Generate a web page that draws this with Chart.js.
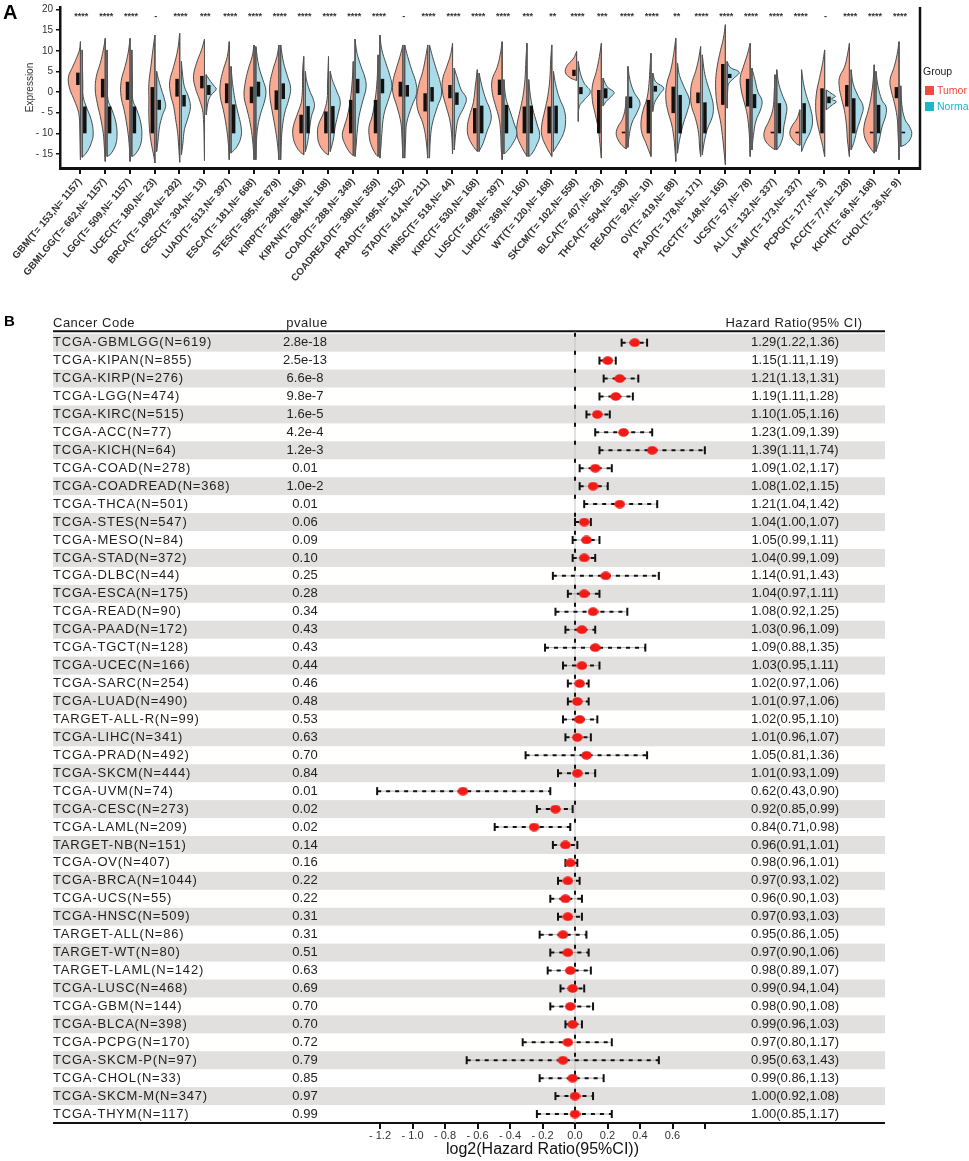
<!DOCTYPE html>
<html>
<head>
<meta charset="utf-8">
<script src="https://cdn.jsdelivr.net/npm/chart.js@4.4.1/dist/chart.umd.min.js"></script>
<style>
  body { margin: 0; background: #fff; }
  #wrapA { position: absolute; left: 0; top: 0; }
  #wrapB { position: absolute; left: 0; top: 290px; }
</style>
</head>
<body>
<div id="wrapA"><canvas id="chartA" width="969" height="290"></canvas></div>
<div id="wrapB"><canvas id="chartB" width="969" height="871"></canvas></div>
<script>
// ---------- panel A data ----------
const cancerTypes = ['GBM','GBMLGG','LGG','UCEC','BRCA','CESC','LUAD','ESCA','STES','KIRP','KIPAN','COAD','COADREAD','PRAD','STAD','HNSC','KIRC','LUSC','LIHC','WT','SKCM','BLCA','THCA','READ','OV','PAAD','TGCT','UCS','ALL','LAML','PCPG','ACC','KICH','CHOL'];
const tumorCounts = [153,662,509,180,1092,304,513,181,595,288,884,288,380,495,414,518,530,498,369,120,102,407,504,92,419,178,148,57,132,173,177,77,66,36];
const normalCounts = [1157,1157,1157,23,292,13,397,668,879,168,168,349,359,152,211,44,168,397,160,168,558,28,338,10,88,171,165,78,337,337,3,128,168,9];
const significance = ['****','****','****','-','****','***','****','****','****','****','****','****','****','-','****','****','****','****','***','**','****','***','****','****','**','****','****','****','****','****','-','****','****','****'];
const expressionTicks = [-15,-10,-5,0,5,10,15,20];

// half violin outlines, [expression, density width] from top to bottom
const tumorProfiles = [
  [[12.2,0],[10.2,1],[8.2,4],[6,8],[3.7,12],[1,11],[-1.5,7],[-4,3],[-6,1.2],[-10,0.6],[-16.4,0]],
  [[13,0],[10.2,2],[7,5],[3.7,9],[0.5,10],[-2.7,8],[-5.9,5],[-10,2],[-13.2,1],[-16.8,0]],
  [[13,0],[9.4,2],[6.2,5],[2.5,9],[-1.1,9],[-4.3,6],[-8.3,3],[-12.4,1],[-16.8,0]],
  [[13.8,0],[10.2,2],[6.2,4],[2.1,6],[-1.9,6],[-5.9,6],[-10,5],[-13.2,3],[-15.6,1],[-17.2,0]],
  [[14.2,0],[10.2,2],[6.2,6],[2.5,10],[-0.7,9],[-3.5,6],[-6.7,4],[-10,2],[-13.2,1],[-17,0]],
  [[12.8,0],[10.2,3],[7,8],[3.7,11],[0.9,9],[-1.9,5],[-4.3,2],[-6.7,1],[-10,0.5],[-16.6,0]],
  [[12.2,0],[8.6,2],[5.4,6],[2.1,9],[-1.1,9],[-4.3,6],[-8.3,3],[-12.4,1],[-16.4,0]],
  [[11.4,0],[8.6,2],[5.4,6],[2.1,9],[-1.1,10],[-4.3,7],[-7.5,4],[-11.6,1.5],[-16.4,0]],
  [[11.4,0],[8.6,2],[5.4,6],[2.1,9],[-1.1,9],[-4.3,7],[-8.3,4],[-12.4,1.5],[-16.4,0]],
  [[8.6,0],[5.4,1],[-1.9,2],[-5.1,6],[-7.9,10],[-10,11],[-12.4,9],[-14.4,4],[-15.2,0]],
  [[8.6,0],[2,1],[-1.9,1.5],[-5.1,5],[-7.9,10],[-10.3,11],[-12.8,9],[-14.8,3],[-15.2,0]],
  [[7.4,0],[3,1],[-1.9,3],[-5.9,6],[-8.3,9],[-10.5,11],[-12.8,8],[-14.8,3],[-15.4,0]],
  [[9,0],[3,1],[-1.9,3],[-5.9,6],[-8.3,9],[-10.5,9],[-12.8,7],[-15.2,2],[-15.6,0]],
  [[11.4,0],[8.6,3],[5.4,7],[2.5,10],[-0.3,10],[-3.5,6],[-7.5,2],[-11,1],[-16,0]],
  [[11.4,0],[8.6,2],[5,5],[1.7,9],[-1.5,11],[-4.3,10],[-7.5,5],[-11,2],[-16,0]],
  [[11.8,0],[9,2],[6,6],[3,10],[0,10],[-3,7],[-6.5,3],[-10,1],[-15,0]],
  [[5.4,0],[1.5,2],[-2.5,4],[-5.9,8],[-8.5,10],[-10.8,9],[-13.2,4],[-14.4,0]],
  [[12.2,0],[9,2],[6,5],[3,10],[0,10],[-3,7],[-6.5,3],[-10,1.5],[-13.5,1],[-16.4,0]],
  [[11.8,0],[8,1],[3,2],[-1,4],[-4.5,7],[-8,10],[-10.5,10],[-13,6],[-15.6,0]],
  [[11.4,0],[8,1],[3,2],[-1,4],[-4.5,7],[-8,10],[-10.5,10],[-13,6],[-15.6,0]],
  [[9.8,0],[8.2,3],[6.2,10],[4.6,11],[3.4,6],[2.8,0]],
  [[11.8,0],[8.6,2],[5,5],[1.5,9],[-2,9],[-5.5,6],[-9,3],[-12.4,1.5],[-16,0]],
  [[-1.1,0],[-4,1],[-6.7,4],[-8.3,8],[-10,10],[-11.6,8],[-13,4],[-13.8,0]],
  [[9.4,0],[6,1],[2,2],[-1.5,4],[-4.5,8],[-7.5,10],[-10,9],[-12.4,5],[-15.6,0]],
  [[13,0],[9.4,2],[5.4,5],[2,9],[-1.5,10],[-4.5,8],[-8,4],[-11,2],[-13.5,1],[-16.8,0]],
  [[11,0],[8,2],[5,5],[2,9],[-0.7,10],[-3.5,9],[-6.5,5],[-10,2],[-13.5,1],[-15.6,0]],
  [[16.3,0],[13,2],[10,5],[6.5,8],[3,9.7],[-0.5,9.5],[-3.5,8],[-7,5],[-10.5,3],[-14,1.5],[-17.6,0]],
  [[11.8,0],[9,3],[6,7],[3.5,10],[0.5,9],[-2.5,6],[-5.5,3],[-10,1],[-15.6,0]],
  [[4.2,0],[0,0.8],[-4,2],[-7,6],[-9,10],[-10.8,11],[-12.4,8],[-13.5,3],[-14,0]],
  [[-4.3,0],[-6.5,3],[-8.3,8],[-10,10],[-11.2,8],[-12.6,3],[-12.9,0]],
  [[10.2,0],[7,2],[3.5,5],[0,8],[-3.5,9],[-6.5,8],[-10,5],[-13,2],[-15.6,0]],
  [[11.8,0],[9,2],[6,5],[3.5,10],[0.9,10],[-1.5,8],[-4.5,5],[-8,3],[-11.6,2],[-15.6,0]],
  [[6.6,0],[3,1],[-1,3],[-4.5,6],[-8,10],[-10.5,10],[-12.8,6],[-14.8,0]],
  [[12.2,0],[9,2],[6,5],[3,9],[0.5,8],[-2.3,5],[-6,2],[-10,1],[-16.4,0]]
];
const normalProfiles = [
  [[10.2,0],[2,0.6],[-1.1,1],[-3.5,4],[-6.7,9],[-10,11],[-12.4,9],[-14.8,4],[-15.8,0]],
  [[10.2,0],[2,0.6],[-1.9,1],[-4.3,5],[-7.5,9],[-10.8,10],[-13.2,8],[-15.2,3],[-15.6,0]],
  [[10.2,0],[2,0.6],[-1.9,1],[-4.3,5],[-7.5,9],[-10.8,10],[-13.2,8],[-15.2,3],[-15.6,0]],
  [[5,0],[3,2],[0.5,5],[-1.9,8],[-3.5,9],[-5.5,6],[-8.3,3],[-11.6,1.5],[-14.4,0]],
  [[7.4,0],[4.6,1],[1.3,3],[-1.1,7],[-3.5,9],[-5.9,7],[-9.1,3],[-12.4,1.5],[-15.2,0]],
  [[4.2,0],[3.4,2],[1.7,7],[0.7,10],[-0.7,5],[-2.3,2],[-5.5,0]],
  [[6.2,0],[2.1,1.5],[-1.9,4],[-5.1,7],[-8.3,10],[-10.8,10],[-13.2,6],[-14.8,0]],
  [[11,0],[6.2,3],[3,7],[0.5,10],[-1.9,9],[-5.1,5],[-8.3,2],[-12,0.6],[-16.4,0]],
  [[11.4,0],[7,3],[3.7,7],[0.9,10],[-1.9,8],[-5.1,4],[-9.1,1.5],[-13,0.5],[-16.4,0]],
  [[5,0],[3,1],[0.5,4],[-1.9,8],[-3.5,9],[-5.9,6],[-9.1,4],[-12.4,2],[-14.4,0]],
  [[5,0],[3,2],[0.5,6],[-2.3,10],[-5.1,8],[-8.3,5],[-11.6,3],[-14.4,0]],
  [[12.8,0],[9.4,2],[6.2,6],[3.4,10],[1,11],[-1.9,8],[-5.9,4],[-10,2],[-13.2,1],[-15.6,0]],
  [[13.8,0],[10.2,2],[7,6],[4,10],[1.3,12],[-1.5,9],[-5.5,4],[-10,2],[-13.5,1],[-16,0]],
  [[11.4,0],[8.6,3],[5.4,7],[2.5,11],[-0.3,12],[-3.5,7],[-7.5,2],[-11,1],[-16,0]],
  [[11.4,0],[8.6,3],[5.4,7],[2.1,11],[-0.7,12],[-3.5,8],[-7.5,3],[-11,1],[-16,0]],
  [[5.8,0],[3.4,3],[0.5,7],[-1.5,12],[-3.5,10],[-6.5,4],[-10,1.5],[-14,0]],
  [[4.6,0],[1.3,3],[-1.9,7],[-4.3,11],[-6.7,12],[-9.5,8],[-12.4,4],[-14.4,0]],
  [[3,0],[-1.5,2],[-4.5,6],[-7.5,10],[-10,13],[-12.4,9],[-14.4,3],[-15,0]],
  [[3,0],[-0.5,1.5],[-4,4],[-7.5,8],[-10.5,11],[-12.8,8],[-15,3],[-15.6,0]],
  [[5,0],[2,2],[-1.5,6],[-4.5,11],[-7.5,12],[-10,10],[-12.4,5],[-14.4,0]],
  [[7.4,0],[4.6,2],[2.1,6],[0.1,12],[-1.9,6],[-3.5,1],[-7.1,0]],
  [[3.4,0],[1.3,4],[-0.1,11],[-1.1,8],[-2.3,3],[-3.4,0]],
  [[6.2,0],[3,2],[0,6],[-2.5,12],[-4.5,10],[-7.5,4],[-11,1],[-13.4,0]],
  [[4.6,0],[2.5,3],[1,11],[-0.5,7],[-2.5,2],[-4.7,0]],
  [[7,0],[4,2],[1,7],[-2,12],[-4.5,10],[-7.5,6],[-10.5,3],[-13,1],[-14.8,0]],
  [[9,0],[5,2],[2,5],[-1,9],[-3.5,11],[-6,10],[-9,5],[-12,2],[-15.2,0]],
  [[7.4,0],[6,3],[4.8,12],[3.4,7],[2.2,2],[1.3,0.8],[-3.9,0]],
  [[5.8,0],[3,3],[0,6],[-2,10],[-4,9],[-7,4],[-10.5,1.5],[-14,0]],
  [[5.4,0],[2,2],[-1,6],[-3.5,10],[-6,9],[-8.5,7],[-11,6],[-13,3],[-14,0]],
  [[5.4,0],[2,2],[-1,5],[-4,9],[-7,11],[-9.5,9],[-12,4],[-14.4,0]],
  [[0.5,0],[-0.5,6],[-1.1,9],[-1.7,5],[-2.3,10],[-3.1,6],[-4.3,0]],
  [[5.4,0],[2,2],[-1,7],[-3.5,12],[-6,10],[-9,6],[-12,3],[-14,0]],
  [[5,0],[1.5,2],[-2,6],[-3.5,10],[-5.5,10],[-8.5,6],[-12,3],[-14.4,0]],
  [[1.5,0],[-3,1],[-6.5,4],[-8.5,9],[-10,11],[-11.6,9],[-12.8,4],[-13.2,0]]
];
// interquartile boxes [q1, q3]
const tumorBoxes = [[1.7,4.7],[-1.3,3.2],[-1.9,2.5],[-10,1.2],[-1.1,3.2],[0.9,3.9],[-2.7,2.1],[-2.7,1.3],[-4.3,0.4],[-10,-5.5],[-10,-4.7],[-10,-1.9],[-10,-1.9],[-1.1,2.5],[-4.7,-0.3],[-1.5,1.7],[-10,-3.9],[-0.7,3],[-10,-3.5],[-10,-3.5],[3.9,5.4],[-10,0.5],[-10,-9.6],[-10,-1.9],[-5.1,1.3],[-2.7,-0.1],[-3.1,6.8],[-3.5,3.2],[-10,-9.6],[-10,-9.6],[-10,0.9],[-3.5,1.7],[-10,-9.6],[-1.5,1.2]];
const normalBoxes = [[-10,-3.5],[-10,-3.5],[-10,-3.5],[-4.3,-1.9],[-3.5,-0.7],[-0.7,1.7],[-10,-3],[-1.1,2.5],[-1.7,2.1],[-10,-3.4],[-10,-3.4],[-0.3,3.2],[-0.3,3.2],[-1.1,1.7],[-2.3,1.2],[-3.1,-0.1],[-10,-3.3],[-10,-3.1],[-10,-3.3],[-10,-3.3],[-0.5,1.2],[-1.5,0.9],[-3.9,-1.1],[0.1,1.5],[-10,-0.7],[-10,-2.5],[3.4,4.4],[-3.9,-0.5],[-10,-2.7],[-10,-2.7],[-2.7,-1.1],[-10,-1.5],[-10,-3.1],[-10,-9.6]];

// ---------- panel B data ----------
const cancerCodes = ['TCGA-GBMLGG(N=619)','TCGA-KIPAN(N=855)','TCGA-KIRP(N=276)','TCGA-LGG(N=474)','TCGA-KIRC(N=515)','TCGA-ACC(N=77)','TCGA-KICH(N=64)','TCGA-COAD(N=278)','TCGA-COADREAD(N=368)','TCGA-THCA(N=501)','TCGA-STES(N=547)','TCGA-MESO(N=84)','TCGA-STAD(N=372)','TCGA-DLBC(N=44)','TCGA-ESCA(N=175)','TCGA-READ(N=90)','TCGA-PAAD(N=172)','TCGA-TGCT(N=128)','TCGA-UCEC(N=166)','TCGA-SARC(N=254)','TCGA-LUAD(N=490)','TARGET-ALL-R(N=99)','TCGA-LIHC(N=341)','TCGA-PRAD(N=492)','TCGA-SKCM(N=444)','TCGA-UVM(N=74)','TCGA-CESC(N=273)','TCGA-LAML(N=209)','TARGET-NB(N=151)','TCGA-OV(N=407)','TCGA-BRCA(N=1044)','TCGA-UCS(N=55)','TCGA-HNSC(N=509)','TARGET-ALL(N=86)','TARGET-WT(N=80)','TARGET-LAML(N=142)','TCGA-LUSC(N=468)','TCGA-GBM(N=144)','TCGA-BLCA(N=398)','TCGA-PCPG(N=170)','TCGA-SKCM-P(N=97)','TCGA-CHOL(N=33)','TCGA-SKCM-M(N=347)','TCGA-THYM(N=117)'];
const pValues = ['2.8e-18','2.5e-13','6.6e-8','9.8e-7','1.6e-5','4.2e-4','1.2e-3','0.01','1.0e-2','0.01','0.06','0.09','0.10','0.25','0.28','0.34','0.43','0.43','0.44','0.46','0.48','0.53','0.63','0.70','0.84','0.01','0.02','0.02','0.14','0.16','0.22','0.22','0.31','0.31','0.51','0.63','0.69','0.70','0.70','0.72','0.79','0.85','0.97','0.99'];
const hazardRatios = [1.29,1.15,1.21,1.19,1.10,1.23,1.39,1.09,1.08,1.21,1.04,1.05,1.04,1.14,1.04,1.08,1.03,1.09,1.03,1.02,1.01,1.02,1.01,1.05,1.01,0.62,0.92,0.84,0.96,0.98,0.97,0.96,0.97,0.95,0.97,0.98,0.99,0.98,0.99,0.97,0.95,0.99,1.00,1.00];
const ciLower = [1.22,1.11,1.13,1.11,1.05,1.09,1.11,1.02,1.02,1.04,1.00,0.99,0.99,0.91,0.97,0.92,0.96,0.88,0.95,0.97,0.97,0.95,0.96,0.81,0.93,0.43,0.85,0.71,0.91,0.96,0.93,0.90,0.93,0.86,0.90,0.89,0.94,0.90,0.96,0.80,0.63,0.86,0.92,0.85];
const ciUpper = [1.36,1.19,1.31,1.28,1.16,1.39,1.74,1.17,1.15,1.42,1.07,1.11,1.09,1.43,1.11,1.25,1.09,1.35,1.11,1.06,1.06,1.10,1.07,1.36,1.09,0.90,0.99,0.98,1.01,1.01,1.02,1.03,1.03,1.05,1.06,1.07,1.04,1.08,1.03,1.17,1.43,1.13,1.08,1.17];
const log2Ticks = [-1.2,-1.0,-0.8,-0.6,-0.4,-0.2,0,0.2,0.4,0.6,0.8];

const FONT = '"Liberation Sans", Arial, Helvetica, sans-serif';
Chart.defaults.font.family = FONT;
Chart.defaults.color = '#333';

const TUMOR_FILL = '#f8ab92';
const NORMAL_FILL = '#a9dce8';
const SHIFT = 0.05;      // violin centre relative to tick
const HALF_GAP = 0.035;  // gap between the two halves
const DENS = 1 / 24.8;   // density width -> x units

const xLabels = cancerTypes.map((c, i) => `${c}(T= ${tumorCounts[i]},N= ${normalCounts[i]})`);

// build violin halves, flat edges and boxes
const violinSets = [];
cancerTypes.forEach((c, i) => {
  const halves = [
    [tumorProfiles[i], -1, TUMOR_FILL, tumorBoxes[i]],
    [normalProfiles[i], 1, NORMAL_FILL, normalBoxes[i]]
  ];
  halves.forEach(([prof, side, col, box]) => {
    const edge = i + SHIFT + side * HALF_GAP;
    violinSets.push({
      type: 'line',
      data: prof.map(([v, w]) => ({ x: edge + side * w * DENS, y: v })),
      borderColor: '#3a3a3a', borderWidth: 0.9, backgroundColor: col,
      fill: 'shape', tension: 0.4, pointRadius: 0, order: 3
    });
    violinSets.push({
      type: 'line',
      data: [{ x: edge, y: prof[0][0] }, { x: edge, y: prof[prof.length - 1][0] }],
      borderColor: '#555', borderWidth: 1, pointRadius: 0, fill: false, order: 2
    });
    const bx = i + SHIFT + side * 0.14;
    violinSets.push({
      type: 'line',
      data: [{ x: bx, y: box[0] }, { x: bx, y: box[1] }],
      borderColor: '#111', borderWidth: 3.5, borderCapStyle: 'butt',
      pointRadius: 0, fill: false, order: 1
    });
  });
});

const panelADecor = {
  id: 'panelADecor',
  afterDraw(chart) {
    const { ctx, chartArea: a, scales: { x, y } } = chart;
    ctx.save();
    // right frame
    ctx.strokeStyle = '#111';
    ctx.lineWidth = 2.5;
    ctx.beginPath();
    ctx.moveTo(a.right, a.top);
    ctx.lineTo(a.right, a.bottom + 1.5);
    ctx.stroke();
    // significance marks
    ctx.fillStyle = '#333';
    ctx.font = 'bold 9px ' + FONT;
    ctx.textAlign = 'center';
    ctx.textBaseline = 'alphabetic';
    significance.forEach((s, i) => {
      ctx.fillText(s, x.getPixelForValue(i + SHIFT), y.getPixelForValue(17.6));
    });
    // legend
    ctx.textAlign = 'left';
    ctx.textBaseline = 'middle';
    ctx.font = '10.5px ' + FONT;
    ctx.fillStyle = '#222';
    ctx.fillText('Group', 923, 72);
    ctx.fillStyle = '#f04b3c';
    ctx.fillRect(925, 86, 9, 9);
    ctx.fillText('Tumor', 937, 91);
    ctx.fillStyle = '#19b6ca';
    ctx.fillRect(925, 102, 9, 9);
    ctx.fillText('Normal', 937, 107);
    // panel letter
    ctx.fillStyle = '#000';
    ctx.font = 'bold 20px ' + FONT;
    ctx.textBaseline = 'top';
    ctx.fillText('A', 3, 3);
    ctx.restore();
  }
};

new Chart(document.getElementById('chartA'), {
  type: 'scatter',
  data: { datasets: violinSets },
  options: {
    responsive: false,
    animation: false,
    events: [],
    layout: { padding: { left: 0, top: 7, right: 49, bottom: 0 } },
    plugins: { legend: { display: false }, tooltip: { enabled: false } },
    scales: {
      x: {
        type: 'linear', min: -0.81, max: 33.86,
        afterBuildTicks: s => { s.ticks = cancerTypes.map((c, i) => ({ value: i })); },
        afterFit: s => { s.height = 122; s.paddingLeft = 0; s.paddingRight = 0; },
        ticks: {
          autoSkip: false, minRotation: 50, maxRotation: 50, padding: 2,
          color: '#333', font: { size: 10, weight: 'bold' },
          callback: v => xLabels[v]
        },
        grid: { drawOnChartArea: false, tickLength: 6, color: '#111', lineWidth: 2 },
        border: { color: '#111', width: 3 }
      },
      y: {
        min: -18.4, max: 20.6,
        afterBuildTicks: s => { s.ticks = expressionTicks.map(v => ({ value: v })); },
        afterFit: s => { s.width = 60; s.paddingTop = 0; s.paddingBottom = 0; },
        ticks: {
          padding: 3, color: '#333', font: { size: 10 },
          callback: v => (v < 0 ? '- ' + Math.abs(v) : String(v))
        },
        grid: { drawOnChartArea: false, tickLength: 4, color: '#111', lineWidth: 1.5 },
        border: { color: '#111', width: 2.5 },
        title: { display: true, text: 'Expression', color: '#333', font: { size: 10 }, padding: { top: 24, bottom: 0 } }
      }
    }
  },
  plugins: [panelADecor]
});

// ---------- panel B ----------
const TABLE_LEFT = 53, TABLE_RIGHT = 885;
const rowIdx = cancerCodes.map((c, i) => i);

const whiskerPts = [];
const capPts = [];
rowIdx.forEach(i => {
  whiskerPts.push({ x: Math.log2(ciLower[i]), y: i }, { x: Math.log2(ciUpper[i]), y: i }, { x: null, y: null });
  capPts.push({ x: Math.log2(ciLower[i]), y: i }, { x: Math.log2(ciUpper[i]), y: i });
});
const hrPts = rowIdx.map(i => ({ x: Math.log2(hazardRatios[i]), y: i }));

// red ellipse marker
const dot = document.createElement('canvas');
dot.width = 11; dot.height = 9;
const dctx = dot.getContext('2d');
dctx.fillStyle = '#f21a16';
dctx.beginPath();
dctx.ellipse(5.5, 4.5, 5.3, 4.3, 0, 0, Math.PI * 2);
dctx.fill();

const tableDecor = {
  id: 'tableDecor',
  beforeDatasetsDraw(chart) {
    const { ctx, chartArea: a, scales: { x, y } } = chart;
    ctx.save();
    ctx.fillStyle = '#e2e0de';
    rowIdx.forEach(i => {
      if (i % 2 === 0) {
        const t = y.getPixelForValue(i - 0.5), b = y.getPixelForValue(i + 0.5);
        ctx.fillRect(TABLE_LEFT, t, TABLE_RIGHT - TABLE_LEFT, b - t);
      }
    });
    // header and bottom rules
    ctx.strokeStyle = '#111';
    ctx.lineWidth = 2;
    ctx.beginPath();
    ctx.moveTo(TABLE_LEFT, a.top - 2.5); ctx.lineTo(TABLE_RIGHT, a.top - 2.5);
    ctx.moveTo(TABLE_LEFT, a.bottom); ctx.lineTo(TABLE_RIGHT, a.bottom);
    ctx.stroke();
    // zero reference line
    const x0 = x.getPixelForValue(0);
    ctx.strokeStyle = '#c4c4c4';
    ctx.lineWidth = 1;
    ctx.beginPath(); ctx.moveTo(x0, a.top - 2); ctx.lineTo(x0, a.bottom); ctx.stroke();
    ctx.strokeStyle = '#111';
    ctx.lineWidth = 2;
    ctx.setLineDash([4, 14]);
    ctx.beginPath(); ctx.moveTo(x0, a.top - 1); ctx.lineTo(x0, a.bottom); ctx.stroke();
    ctx.restore();
  },
  afterDatasetsDraw(chart) {
    const { ctx, chartArea: a, scales: { y } } = chart;
    ctx.save();
    ctx.fillStyle = '#1e1e1e';
    ctx.textBaseline = 'middle';
    ctx.font = '13px ' + FONT;
    rowIdx.forEach(i => {
      const py = y.getPixelForValue(i);
      ctx.textAlign = 'left';
      ctx.letterSpacing = '0.8px';
      ctx.fillText(cancerCodes[i], TABLE_LEFT, py);
      ctx.letterSpacing = '0px';
      ctx.textAlign = 'center';
      ctx.fillText(pValues[i], 305, py);
      const hr = `${hazardRatios[i].toFixed(2)}(${ciLower[i].toFixed(2)},${ciUpper[i].toFixed(2)})`;
      ctx.fillText(hr, 795, py);
    });
    // header
    const hy = a.top - 10;
    ctx.letterSpacing = '0.5px';
    ctx.textAlign = 'left';
    ctx.fillText('Cancer Code', TABLE_LEFT, hy);
    ctx.textAlign = 'center';
    ctx.fillText('pvalue', 307, hy);
    ctx.fillText('Hazard Ratio(95% CI)', 794, hy);
    // panel letter
    ctx.letterSpacing = '0px';
    ctx.fillStyle = '#000';
    ctx.font = 'bold 15px ' + FONT;
    ctx.textAlign = 'left';
    ctx.fillText('B', 4, 32);
    ctx.restore();
  }
};

new Chart(document.getElementById('chartB'), {
  type: 'scatter',
  data: {
    datasets: [
      { type: 'line', data: whiskerPts, borderColor: '#9a9a9a', borderWidth: 0.8, pointRadius: 0, fill: false, spanGaps: false, clip: false, order: 4 },
      { type: 'line', data: whiskerPts, borderColor: '#111', borderWidth: 2, borderDash: [4, 5], pointRadius: 0, fill: false, spanGaps: false, clip: false, order: 3 },
      { data: capPts, pointStyle: 'line', rotation: 90, pointRadius: 4, pointBorderWidth: 2, pointBorderColor: '#111', clip: false, order: 2 },
      { data: hrPts, pointStyle: dot, pointRadius: 5, clip: false, order: 1 }
    ]
  },
  options: {
    responsive: false,
    animation: false,
    events: [],
    layout: { padding: { left: 380, top: 43.7, right: 264, bottom: 0 } },
    plugins: { legend: { display: false }, tooltip: { enabled: false } },
    scales: {
      x: {
        type: 'linear', min: -1.2, max: 0.8,
        afterBuildTicks: s => { s.ticks = log2Ticks.map(v => ({ value: v })); },
        afterFit: s => { s.height = 38; s.paddingLeft = 0; s.paddingRight = 0; },
        ticks: {
          padding: 0, color: '#333', font: { size: 11 },
          callback: v => {
            if (Math.abs(v - 0.8) < 1e-9) return '';
            return v < -1e-9 ? '- ' + Math.abs(v).toFixed(1) : v.toFixed(1);
          }
        },
        grid: { drawOnChartArea: false, tickLength: 6, color: '#111', lineWidth: 2 },
        border: { display: false },
        title: { display: true, text: 'log2(Hazard Ratio(95%CI))', color: '#111', font: { size: 16 }, padding: { top: 0, bottom: 2 } }
      },
      y: { display: false, reverse: true, min: -0.5, max: cancerCodes.length - 0.5 }
    }
  },
  plugins: [tableDecor]
});
</script>
</body>
</html>
